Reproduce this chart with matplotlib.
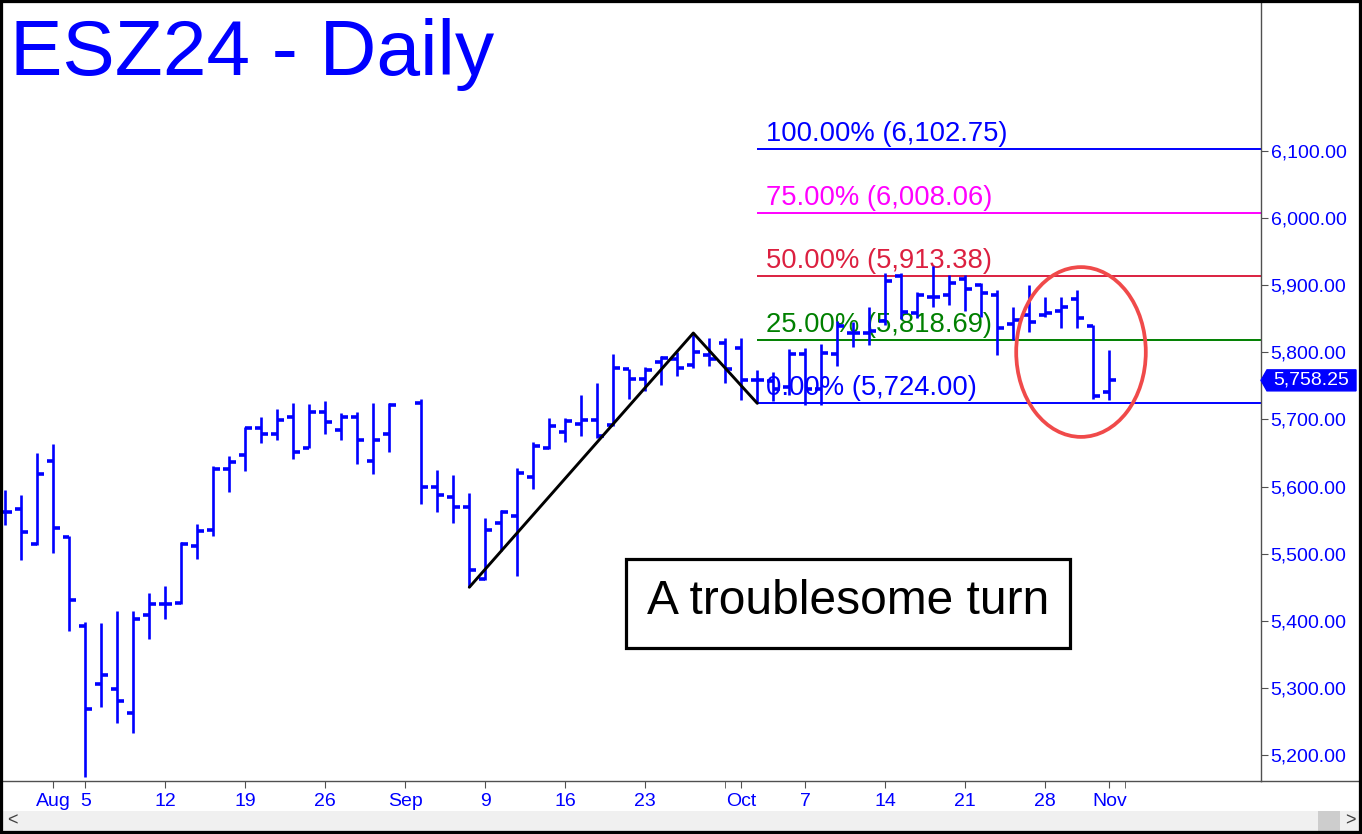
"""ESZ24 - Daily bar chart with Fibonacci projection levels"""

import numpy as np
import pandas as pd
import matplotlib
matplotlib.use("Agg")
import matplotlib.pyplot as plt
from matplotlib.patches import Ellipse, Rectangle, Polygon
from matplotlib.ticker import FuncFormatter

plt.rcParams["font.family"] = ["Liberation Sans", "DejaVu Sans"]

# Daily OHLC bars (Sep 2 has a slot on the axis but no bar)
dates = [
    "2024-07-29", "2024-07-30", "2024-07-31", "2024-08-01", "2024-08-02",
    "2024-08-05", "2024-08-06", "2024-08-07", "2024-08-08", "2024-08-09",
    "2024-08-12", "2024-08-13", "2024-08-14", "2024-08-15", "2024-08-16",
    "2024-08-19", "2024-08-20", "2024-08-21", "2024-08-22", "2024-08-23",
    "2024-08-26", "2024-08-27", "2024-08-28", "2024-08-29", "2024-08-30",
    "2024-09-03", "2024-09-04", "2024-09-05", "2024-09-06",
    "2024-09-09", "2024-09-10", "2024-09-11", "2024-09-12", "2024-09-13",
    "2024-09-16", "2024-09-17", "2024-09-18", "2024-09-19", "2024-09-20",
    "2024-09-23", "2024-09-24", "2024-09-25", "2024-09-26", "2024-09-27",
    "2024-09-30", "2024-10-01", "2024-10-02", "2024-10-03", "2024-10-04",
    "2024-10-07", "2024-10-08", "2024-10-09", "2024-10-10", "2024-10-11",
    "2024-10-14", "2024-10-15", "2024-10-16", "2024-10-17", "2024-10-18",
    "2024-10-21", "2024-10-22", "2024-10-23", "2024-10-24", "2024-10-25",
    "2024-10-28", "2024-10-29", "2024-10-30", "2024-10-31", "2024-11-01",
]
opens = [
    5562, 5566, 5514, 5638, 5525,
    5392, 5306, 5299, 5262, 5409,
    5425, 5426, 5512, 5536, 5626,
    5647, 5688, 5678, 5703, 5658,
    5711, 5684, 5703, 5638, 5679,
    5724, 5599, 5585, 5569,
    5462, 5545, 5556, 5615, 5657,
    5682, 5693, 5699, 5691, 5775,
    5760, 5786, 5790, 5781, 5796,
    5814, 5806, 5759, 5757, 5748,
    5798, 5745, 5797, 5829, 5829,
    5847, 5914, 5858, 5883, 5886,
    5910, 5900, 5886, 5842, 5856,
    5855, 5862, 5880, 5839, 5741,
]
highs = [
    5595, 5588, 5650, 5663, 5527,
    5398, 5396, 5415, 5415, 5441,
    5452, 5517, 5544, 5631, 5645,
    5689, 5703, 5715, 5724, 5723,
    5728, 5709, 5711, 5724, 5725,
    5730, 5624, 5617, 5590,
    5553, 5565, 5628, 5667, 5702,
    5702, 5736, 5755, 5797, 5775,
    5778, 5794, 5801, 5828.75, 5821,
    5821, 5821, 5774, 5770, 5805,
    5806, 5813, 5846, 5845, 5868,
    5918, 5918, 5890, 5928, 5915,
    5915, 5903, 5893, 5868, 5900,
    5883, 5883, 5893, 5841, 5804,
]
lows = [
    5542, 5491, 5513, 5501, 5385,
    5168, 5272, 5248, 5233, 5373,
    5403, 5425, 5492, 5527, 5592,
    5623, 5665, 5670, 5641, 5658,
    5678, 5670, 5633, 5618, 5652,
    5574, 5562, 5545, 5450,
    5461, 5504, 5467, 5597, 5656,
    5666, 5675, 5672, 5690, 5730,
    5743, 5752, 5764, 5777, 5779,
    5754, 5729, 5724, 5727, 5737,
    5722, 5722, 5779, 5808, 5811,
    5841, 5850, 5851, 5868, 5870,
    5861, 5853, 5796, 5818, 5831,
    5853, 5836, 5836, 5731, 5729,
]
closes = [
    5562, 5532, 5618, 5538, 5431,
    5268, 5319, 5280, 5403, 5425,
    5425, 5514, 5534, 5626, 5636,
    5688, 5678, 5699, 5652, 5711,
    5696, 5703, 5669, 5669, 5721,
    5600, 5587, 5569, 5475,
    5536, 5562, 5620, 5661, 5690,
    5698, 5699, 5676, 5776, 5760,
    5774, 5791, 5776, 5801, 5790,
    5775, 5759, 5759, 5745, 5798,
    5745, 5799, 5839, 5829, 5832,
    5907, 5860, 5886, 5883, 5903,
    5895, 5889, 5837, 5848, 5845,
    5858, 5867, 5851, 5735, 5758.25,
]

# Fibonacci projection levels
fib_pcts = ["100.00%", "75.00%", "50.00%", "25.00%", "0.00%"]
fib_levels = [6102.75, 6008.06, 5913.38, 5818.69, 5724.00]
fib_colors = ["#0000ff", "#ff00ff", "#dc2040", "#008000", "#0000ff"]

# A-B-C swing points
abc_dates = ["2024-09-06", "2024-09-26", "2024-10-02"]
abc_prices = [5450, 5828.75, 5724.00]

# x axis labels
tick_dates = ["2024-08-01", "2024-08-05", "2024-08-12", "2024-08-19", "2024-08-26",
              "2024-09-02", "2024-09-09", "2024-09-16", "2024-09-23", "2024-10-01",
              "2024-10-07", "2024-10-14", "2024-10-21", "2024-10-28", "2024-11-01"]
tick_labels = ["Aug", "5", "12", "19", "26", "Sep", "9", "16", "23", "Oct",
               "7", "14", "21", "28", "Nov"]
minor_dates = ["2024-09-30", "2024-11-04"]

# trading-day slots
days = pd.bdate_range("2024-07-29", "2024-11-08")
pos = days.get_indexer(pd.to_datetime(dates))
opens, highs, lows, closes = map(np.array, (opens, highs, lows, closes))

BLUE = "#0000ff"
W, H = 1362, 834
fig = plt.figure(figsize=(W / 100, H / 100), dpi=100)
ax = fig.add_axes([2 / W, 1 - 781 / H, 1259 / W, 779 / H])
ax.set_xlim(-0.206, 78.48)
ax.set_ylim(5161.3, 6322)

# bars
ax.vlines(pos, lows, highs, color=BLUE, lw=1.9, zorder=3)
ax.hlines(opens, pos - 0.4, pos, color=BLUE, lw=2.6, zorder=3)
ax.hlines(closes, pos, pos + 0.4, color=BLUE, lw=2.6, zorder=3)

# fib lines and labels
fib_start = days.get_loc(pd.Timestamp(abc_dates[2]))
for pct, lvl, col in zip(fib_pcts, fib_levels, fib_colors):
    ax.hlines(lvl, fib_start, 80, color=col, lw=1.4, zorder=2)
    ax.text(fib_start + 0.55, lvl + 12, f"{pct} ({lvl:,.2f})", color=col,
            fontsize=19.7, va="baseline", ha="left", zorder=1)

# A-B-C line
abc_pos = days.get_indexer(pd.to_datetime(abc_dates))
ax.plot(abc_pos, abc_prices, color="black", lw=2.1, zorder=4,
        solid_capstyle="round")

# red ellipse around the latest bars
ax.add_patch(Ellipse((67.23, 5800.5), 8.1, 253, fill=False,
                     edgecolor="#f04a4a", lw=2.7, zorder=5))

# axes styling
for s in ["top", "left"]:
    ax.spines[s].set_visible(False)
for s in ["right", "bottom"]:
    ax.spines[s].set_color("#505050")
    ax.spines[s].set_linewidth(1.0)
ax.yaxis.tick_right()
ax.set_yticks(np.arange(5200, 6101, 100))
ax.yaxis.set_major_formatter(FuncFormatter(lambda v, p: f"{v:,.2f}"))
ax.tick_params(axis="y", direction="out", length=5, color="#505050",
               labelcolor=BLUE, labelsize=14, pad=2)
ax.set_xticks(days.get_indexer(pd.to_datetime(tick_dates)))
ax.set_xticklabels(tick_labels)
ax.set_xticks(days.get_indexer(pd.to_datetime(minor_dates)), minor=True)
ax.tick_params(axis="x", which="both", direction="out", length=5,
               color="#505050", labelcolor=BLUE, labelsize=14, pad=4)

# title
fig.text(10 / W, 1 - 75 / H, "ESZ24 - Daily", fontsize=56.5, color=BLUE,
         va="baseline", ha="left")

# annotation box
fig.patches.append(Rectangle((626 / W, 1 - 648 / H), 444 / W, 89 / H,
                             transform=fig.transFigure, facecolor="white",
                             edgecolor="black", lw=2.3, zorder=6))
fig.text(848 / W, 1 - 601 / H, "A troublesome turn", fontsize=34.5,
         color="black", ha="center", va="center", zorder=7)

# bottom line continues under the price scale
fig.add_artist(plt.Line2D([1261 / W, 1], [1 - 781 / H] * 2, color="#505050",
                          lw=1.0, transform=fig.transFigure))

# last price marker
fig.canvas.draw()
yc = ax.transData.transform((0, closes[-1]))[1]
pts = [(1261, yc), (1267, yc + 10.5), (1356, yc + 10.5),
       (1356, yc - 10.5), (1267, yc - 10.5)]
fig.patches.append(Polygon([(x / W, y / H) for x, y in pts], closed=True,
                           transform=fig.transFigure, facecolor=BLUE,
                           edgecolor=BLUE, zorder=6))
fig.text(1311 / W, yc / H, f"{closes[-1]:,.2f}", color="white", fontsize=14,
         ha="center", va="center", zorder=7)

# scroll bar
fig.patches.append(Rectangle((0, 2 / H), 1, 21 / H, transform=fig.transFigure,
                             facecolor="#f0f0f0", edgecolor="none"))
fig.patches.append(Rectangle((1318 / W, 2 / H), 22 / W, 21 / H,
                             transform=fig.transFigure, facecolor="#cdcdcd",
                             edgecolor="none"))
fig.text(12 / W, 13 / H, "<", color="#404040", fontsize=13, ha="center",
         va="center")
fig.text(1350 / W, 13 / H, ">", color="#404040", fontsize=13, ha="center",
         va="center")

# window frame
fig.patches.append(Rectangle((0, 0), 1, 1, transform=fig.transFigure,
                             fill=False, edgecolor="black", lw=4.5, zorder=10))

fig.savefig("out.png", dpi=100)
